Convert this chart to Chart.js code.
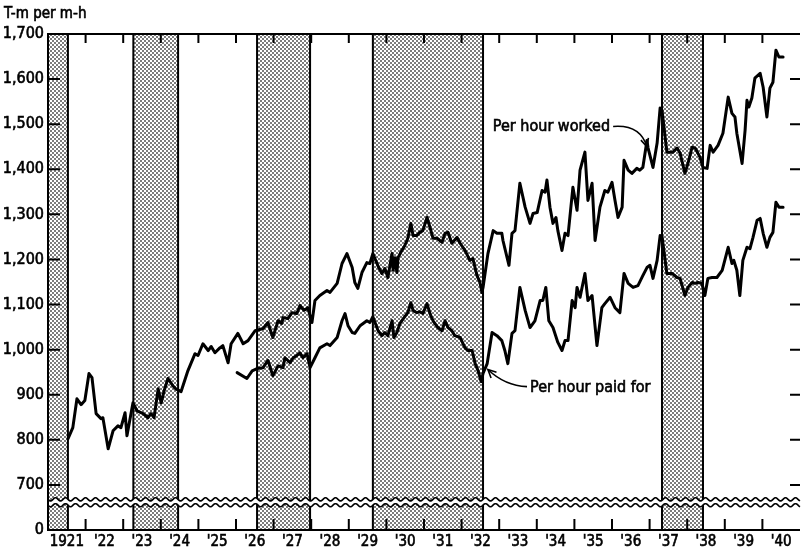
<!DOCTYPE html>
<html>
<head>
<meta charset="utf-8">
<script src="https://cdn.jsdelivr.net/npm/chart.js@4.4.1/dist/chart.umd.min.js"></script>
<style>
    html, body { margin: 0; padding: 0; background: #fff; }
</style>
</head>
<body>
<canvas id="myChart" width="802" height="555"></canvas>
<script>
(function () {
    'use strict';

    // output per man-hour, monthly (year as decimal)
    var workedYears = [
        1921.53, 1921.66, 1921.77, 1921.88, 1921.98, 1922.09, 1922.17, 1922.28, 1922.41, 1922.46,
        1922.60, 1922.73, 1922.86, 1922.94, 1923.05, 1923.10, 1923.26, 1923.37, 1923.53, 1923.66,
        1923.74, 1923.82, 1923.93, 1924.01, 1924.09, 1924.19, 1924.32, 1924.40, 1924.54, 1924.72,
        1924.91, 1924.99, 1925.12, 1925.26, 1925.34, 1925.44, 1925.57, 1925.65, 1925.79, 1925.87,
        1926.05, 1926.19, 1926.32, 1926.51, 1926.72, 1926.85, 1926.98, 1927.12, 1927.22, 1927.25,
        1927.38, 1927.49, 1927.62, 1927.70, 1927.81, 1927.91, 1928.02, 1928.10, 1928.23, 1928.42,
        1928.50, 1928.69, 1928.82, 1928.95, 1929.09, 1929.16, 1929.24, 1929.35, 1929.48, 1929.56,
        1929.64, 1929.78, 1929.88, 1929.96, 1930.04, 1930.15, 1930.18, 1930.23, 1930.28, 1930.31,
        1930.41, 1930.49, 1930.57, 1930.65, 1930.71, 1930.81, 1930.89, 1930.97, 1931.08, 1931.16,
        1931.24, 1931.35, 1931.48, 1931.56, 1931.64, 1931.74, 1931.88, 1931.96, 1932.09, 1932.22,
        1932.30, 1932.41, 1932.49, 1932.54, 1932.57, 1932.70, 1932.84, 1932.94, 1933.07, 1933.10,
        1933.21, 1933.26, 1933.34, 1933.42, 1933.55, 1933.69, 1933.82, 1933.90, 1934.01, 1934.14,
        1934.22, 1934.27, 1934.35, 1934.43, 1934.51, 1934.56, 1934.67, 1934.75, 1934.83, 1934.96,
        1935.07, 1935.15, 1935.28, 1935.36, 1935.47, 1935.55, 1935.68, 1935.81, 1935.89, 1936.00,
        1936.08, 1936.16, 1936.27, 1936.32, 1936.43, 1936.53, 1936.66, 1936.74, 1936.82, 1936.93,
        1936.96, 1937.09, 1937.20, 1937.28, 1937.33, 1937.46, 1937.62, 1937.73, 1937.81, 1937.94,
        1938.02, 1938.13, 1938.21, 1938.34, 1938.42, 1938.53, 1938.61, 1938.69, 1938.82, 1938.95,
        1939.09, 1939.19, 1939.27, 1939.32, 1939.46, 1939.54, 1939.59, 1939.64, 1939.72, 1939.80,
        1939.94, 1940.02, 1940.12, 1940.20, 1940.28, 1940.36, 1940.44, 1940.55
    ];
    var workedValues = [
        802, 827, 891, 878, 887, 947, 938, 858, 847, 849,
        780, 820, 831, 827, 860, 809, 882, 864, 858, 849,
        858, 849, 913, 882, 909, 936, 920, 913, 907, 953,
        991, 987, 1013, 998, 1007, 993, 1004, 1009, 971, 1013,
        1036, 1013, 1020, 1042, 1047, 1060, 1027, 1064, 1058, 1071,
        1069, 1082, 1080, 1098, 1087, 1093, 1060, 1109, 1120, 1131,
        1127, 1147, 1191, 1213, 1182, 1149, 1136, 1171, 1193, 1191,
        1213, 1185, 1169, 1180, 1160, 1213, 1176, 1204, 1171, 1204,
        1220, 1231, 1247, 1280, 1253, 1253, 1260, 1264, 1293, 1271,
        1247, 1247, 1238, 1258, 1260, 1236, 1249, 1236, 1220, 1198,
        1202, 1164, 1149, 1127, 1138, 1213, 1264, 1258, 1258, 1242,
        1204, 1187, 1258, 1264, 1369, 1316, 1280, 1302, 1304, 1353,
        1349, 1376, 1316, 1280, 1293, 1264, 1220, 1258, 1253, 1360,
        1309, 1398, 1438, 1331, 1369, 1242, 1316, 1353, 1349, 1371,
        1331, 1293, 1316, 1420, 1398, 1391, 1402, 1398, 1404, 1464,
        1447, 1404, 1458, 1536, 1531, 1438, 1438, 1447, 1436, 1391,
        1413, 1449, 1447, 1427, 1404, 1402, 1453, 1438, 1453, 1480,
        1560, 1524, 1516, 1480, 1413, 1487, 1553, 1538, 1558, 1602,
        1613, 1582, 1516, 1580, 1593, 1664, 1649, 1649
    ];

    var paidYears = [
        1926.03, 1926.29, 1926.43, 1926.56, 1926.72, 1926.85, 1926.98, 1927.12, 1927.25, 1927.30,
        1927.44, 1927.52, 1927.62, 1927.70, 1927.78, 1927.89, 1927.97, 1928.10, 1928.23, 1928.42,
        1928.50, 1928.69, 1928.82, 1928.90, 1928.98, 1929.09, 1929.16, 1929.30, 1929.48, 1929.56,
        1929.64, 1929.78, 1929.88, 1929.96, 1930.04, 1930.15, 1930.20, 1930.28, 1930.36, 1930.47,
        1930.57, 1930.65, 1930.71, 1930.81, 1930.89, 1930.97, 1931.08, 1931.16, 1931.24, 1931.37,
        1931.48, 1931.56, 1931.64, 1931.74, 1931.82, 1931.96, 1932.09, 1932.17, 1932.28, 1932.36,
        1932.44, 1932.52, 1932.57, 1932.68, 1932.81, 1932.94, 1933.07, 1933.15, 1933.23, 1933.34,
        1933.42, 1933.55, 1933.69, 1933.82, 1933.95, 1934.09, 1934.16, 1934.24, 1934.32, 1934.43,
        1934.56, 1934.67, 1934.75, 1934.83, 1934.94, 1935.02, 1935.07, 1935.15, 1935.28, 1935.36,
        1935.47, 1935.60, 1935.73, 1935.81, 1935.95, 1936.08, 1936.21, 1936.32, 1936.43, 1936.56,
        1936.69, 1936.82, 1936.93, 1937.01, 1937.09, 1937.20, 1937.28, 1937.33, 1937.46, 1937.60,
        1937.73, 1937.81, 1937.94, 1938.02, 1938.13, 1938.21, 1938.29, 1938.39, 1938.47, 1938.55,
        1938.66, 1938.79, 1938.93, 1939.09, 1939.19, 1939.24, 1939.32, 1939.40, 1939.48, 1939.59,
        1939.67, 1939.75, 1939.86, 1939.94, 1940.02, 1940.12, 1940.20, 1940.28, 1940.36, 1940.44,
        1940.55
    ];
    var paidValues = [
        949, 936, 953, 958, 960, 976, 942, 964, 960, 982,
        971, 982, 987, 993, 982, 991, 960, 982, 1004, 1013,
        1009, 1027, 1064, 1080, 1053, 1038, 1036, 1053, 1064, 1060,
        1073, 1042, 1031, 1038, 1031, 1064, 1027, 1038, 1058, 1071,
        1082, 1104, 1087, 1082, 1084, 1080, 1102, 1080, 1064, 1049,
        1042, 1064, 1049, 1042, 1031, 1027, 1004, 998, 998, 969,
        953, 929, 947, 969, 1038, 1031, 1020, 998, 969, 1036,
        1042, 1138, 1087, 1049, 1064, 1109, 1109, 1138, 1064, 1049,
        1016, 998, 1020, 1020, 1109, 1093, 1138, 1116, 1169, 1109,
        1120, 1009, 1093, 1102, 1116, 1093, 1082, 1169, 1147, 1138,
        1142, 1164, 1182, 1187, 1158, 1198, 1253, 1251, 1169, 1169,
        1160, 1158, 1120, 1138, 1149, 1147, 1149, 1147, 1120, 1158,
        1160, 1160, 1176, 1227, 1191, 1198, 1176, 1120, 1198, 1227,
        1224, 1249, 1287, 1291, 1258, 1227, 1249, 1260, 1327, 1316,
        1316
    ];

    // shaded periods (business contractions), start / end as decimal years
    var recessionStarts = [1920.50, 1923.27, 1926.56, 1929.64, 1937.33];
    var recessionEnds = [1921.53, 1924.46, 1927.97, 1932.57, 1938.42];

    var yearLabels = ['1921', '\'22', '\'23', '\'24', '\'25', '\'26', '\'27', '\'28', '\'29', '\'30',
        '\'31', '\'32', '\'33', '\'34', '\'35', '\'36', '\'37', '\'38', '\'39', '\'40'];
    var firstYear = 1921;

    var FONT = '"DejaVu Sans Condensed", "Liberation Sans Narrow", "DejaVu Sans", sans-serif';

    function toPoints(xs, ys) {
        var out = [];
        var n = Math.min(xs.length, ys.length);
        for (var i = 0; i < n; i++) {
            out.push({ x: xs[i], y: ys[i] });
        }
        return out;
    }

    // stipple used for the shaded periods
    function dotPattern(ctx) {
        var c = document.createElement('canvas');
        c.width = 4;
        c.height = 4;
        var g = c.getContext('2d');
        g.fillStyle = '#fff';
        g.fillRect(0, 0, 4, 4);
        g.fillStyle = '#7c7c7c';
        g.fillRect(0, 0, 2, 2);
        g.fillRect(2, 2, 2, 2);
        return ctx.createPattern(c, 'repeat');
    }

    function wavePath(ctx, x0, x1, y, reverse) {
        var x;
        if (!reverse) {
            for (x = x0; x <= x1; x++) {
                ctx.lineTo(x, y + 1.6 * Math.sin((x - x0) / 10 * 2 * Math.PI));
            }
        } else {
            for (x = x1; x >= x0; x--) {
                ctx.lineTo(x, y + 1.6 * Math.sin((x - x0) / 10 * 2 * Math.PI));
            }
        }
    }

    function arrow(ctx, x0, y0, cx, cy, x1, y1) {
        ctx.beginPath();
        ctx.moveTo(x0, y0);
        ctx.quadraticCurveTo(cx, cy, x1, y1);
        ctx.stroke();
        var a = Math.atan2(y1 - cy, x1 - cx);
        ctx.beginPath();
        ctx.moveTo(x1 - 9 * Math.cos(a - 0.45), y1 - 9 * Math.sin(a - 0.45));
        ctx.lineTo(x1, y1);
        ctx.lineTo(x1 - 9 * Math.cos(a + 0.45), y1 - 9 * Math.sin(a + 0.45));
        ctx.stroke();
    }

    function label(ctx, text, x, y) {
        ctx.strokeText(text, x, y);
        ctx.fillText(text, x, y);
    }

    var backdrop = {
        id: 'backdrop',
        beforeDatasetsDraw: function (chart) {
            var ctx = chart.ctx;
            var area = chart.chartArea;
            var xs = chart.scales.x;
            var ys = chart.scales.y;
            var i, px;

            ctx.save();

            // shaded contractions
            var pat = dotPattern(ctx);
            for (i = 0; i < recessionStarts.length; i++) {
                var l = Math.max(area.left, xs.getPixelForValue(recessionStarts[i]));
                var r = Math.min(area.right, xs.getPixelForValue(recessionEnds[i]));
                ctx.fillStyle = pat;
                ctx.fillRect(l, area.top, r - l, area.bottom - area.top);
                ctx.strokeStyle = '#000';
                ctx.lineWidth = 2;
                ctx.beginPath();
                if (l > area.left + 1) {
                    ctx.moveTo(l, area.top);
                    ctx.lineTo(l, area.bottom);
                }
                ctx.moveTo(r, area.top);
                ctx.lineTo(r, area.bottom);
                ctx.stroke();
            }

            // scale break
            var yb1 = ys.getPixelForValue(668);
            var yb2 = ys.getPixelForValue(655);
            ctx.beginPath();
            ctx.moveTo(area.left, yb1);
            wavePath(ctx, area.left, area.right, yb1, false);
            wavePath(ctx, area.left, area.right, yb2, true);
            ctx.closePath();
            ctx.fillStyle = '#fff';
            ctx.fill();
            ctx.strokeStyle = '#000';
            ctx.lineWidth = 1.6;
            ctx.beginPath();
            ctx.moveTo(area.left, yb1);
            wavePath(ctx, area.left, area.right, yb1, false);
            ctx.stroke();
            ctx.beginPath();
            ctx.moveTo(area.left, yb2);
            wavePath(ctx, area.left, area.right, yb2, false);
            ctx.stroke();

            // frame
            ctx.lineWidth = 2;
            ctx.beginPath();
            ctx.moveTo(area.right, area.top);
            ctx.lineTo(area.left, area.top);
            ctx.lineTo(area.left, area.bottom);
            ctx.lineTo(area.right, area.bottom);
            ctx.stroke();

            // year ticks, top and bottom, pointing inward
            for (i = 1; i < yearLabels.length; i++) {
                px = xs.getPixelForValue(firstYear + i);
                ctx.beginPath();
                ctx.moveTo(px, area.top);
                ctx.lineTo(px, area.top + 9);
                ctx.moveTo(px, area.bottom);
                ctx.lineTo(px, area.bottom - 11);
                ctx.stroke();
            }

            // value ticks, left and right, pointing inward
            for (var v = 700; v <= 1600; v += 100) {
                px = ys.getPixelForValue(v);
                ctx.beginPath();
                ctx.moveTo(area.left, px);
                ctx.lineTo(area.left + 12, px);
                ctx.moveTo(area.right, px);
                ctx.lineTo(area.right - 10, px);
                ctx.stroke();
            }

            ctx.restore();
        },
        afterDatasetsDraw: function (chart) {
            var ctx = chart.ctx;
            var xs = chart.scales.x;
            var ys = chart.scales.y;

            ctx.save();
            ctx.fillStyle = '#000';
            ctx.strokeStyle = '#000';
            ctx.textBaseline = 'middle';
            ctx.lineWidth = 0.6;

            // unit label
            ctx.font = '15px ' + FONT;
            ctx.textAlign = 'left';
            label(ctx, 'T-m per m-h', 4, 14);

            // Per hour worked
            ctx.font = '16px ' + FONT;
            ctx.textAlign = 'right';
            label(ctx, 'Per hour worked', xs.getPixelForValue(1935.95), ys.getPixelForValue(1493));

            // Per hour paid for
            ctx.textAlign = 'left';
            label(ctx, 'Per hour paid for', xs.getPixelForValue(1933.82), ys.getPixelForValue(916));

            ctx.lineWidth = 1.6;
            arrow(ctx,
                xs.getPixelForValue(1936.03), ys.getPixelForValue(1495),
                xs.getPixelForValue(1936.75), ys.getPixelForValue(1500),
                xs.getPixelForValue(1936.93), ys.getPixelForValue(1450));
            arrow(ctx,
                xs.getPixelForValue(1933.74), ys.getPixelForValue(918),
                xs.getPixelForValue(1933.15), ys.getPixelForValue(920),
                xs.getPixelForValue(1932.70), ys.getPixelForValue(956));

            ctx.restore();
        }
    };

    var lineStyle = {
        borderColor: '#000',
        borderWidth: 3,
        pointRadius: 0,
        tension: 0,
        fill: false,
        borderJoinStyle: 'round',
        borderCapStyle: 'round'
    };

    new Chart(document.getElementById('myChart'), {
        type: 'line',
        data: {
            datasets: [
                Object.assign({ label: 'Per hour worked', data: toPoints(workedYears, workedValues) }, lineStyle),
                Object.assign({ label: 'Per hour paid for', data: toPoints(paidYears, paidValues) }, lineStyle)
            ]
        },
        options: {
            responsive: false,
            animation: false,
            devicePixelRatio: 1,
            layout: { padding: { top: 34, right: 2, left: 0, bottom: 0 } },
            plugins: {
                legend: { display: false },
                tooltip: { enabled: false }
            },
            scales: {
                x: {
                    type: 'linear',
                    min: firstYear,
                    max: firstYear + yearLabels.length,
                    afterBuildTicks: function (scale) {
                        scale.ticks = yearLabels.map(function (lab, i) {
                            return { value: firstYear + i + 0.5 };
                        });
                    },
                    ticks: {
                        autoSkip: false,
                        maxRotation: 0,
                        padding: 3,
                        color: '#000',
                        textStrokeColor: '#000',
                        textStrokeWidth: 0.6,
                        font: { family: FONT, size: 15 },
                        callback: function (value) {
                            return yearLabels[Math.floor(value) - firstYear];
                        }
                    },
                    grid: { display: false, drawTicks: false },
                    border: { display: false },
                    afterFit: function (scale) { scale.height = 25; }
                },
                y: {
                    type: 'linear',
                    min: 600,
                    max: 1700,
                    ticks: {
                        stepSize: 100,
                        padding: 4,
                        color: '#000',
                        textStrokeColor: '#000',
                        textStrokeWidth: 0.6,
                        font: { family: FONT, size: 16 },
                        callback: function (value) {
                            return value === 600 ? '0' : value.toLocaleString('en-US');
                        }
                    },
                    grid: { display: false, drawTicks: false },
                    border: { display: false },
                    afterFit: function (scale) { scale.width = 48; }
                }
            }
        },
        plugins: [backdrop]
    });
})();
</script>
</body>
</html>
